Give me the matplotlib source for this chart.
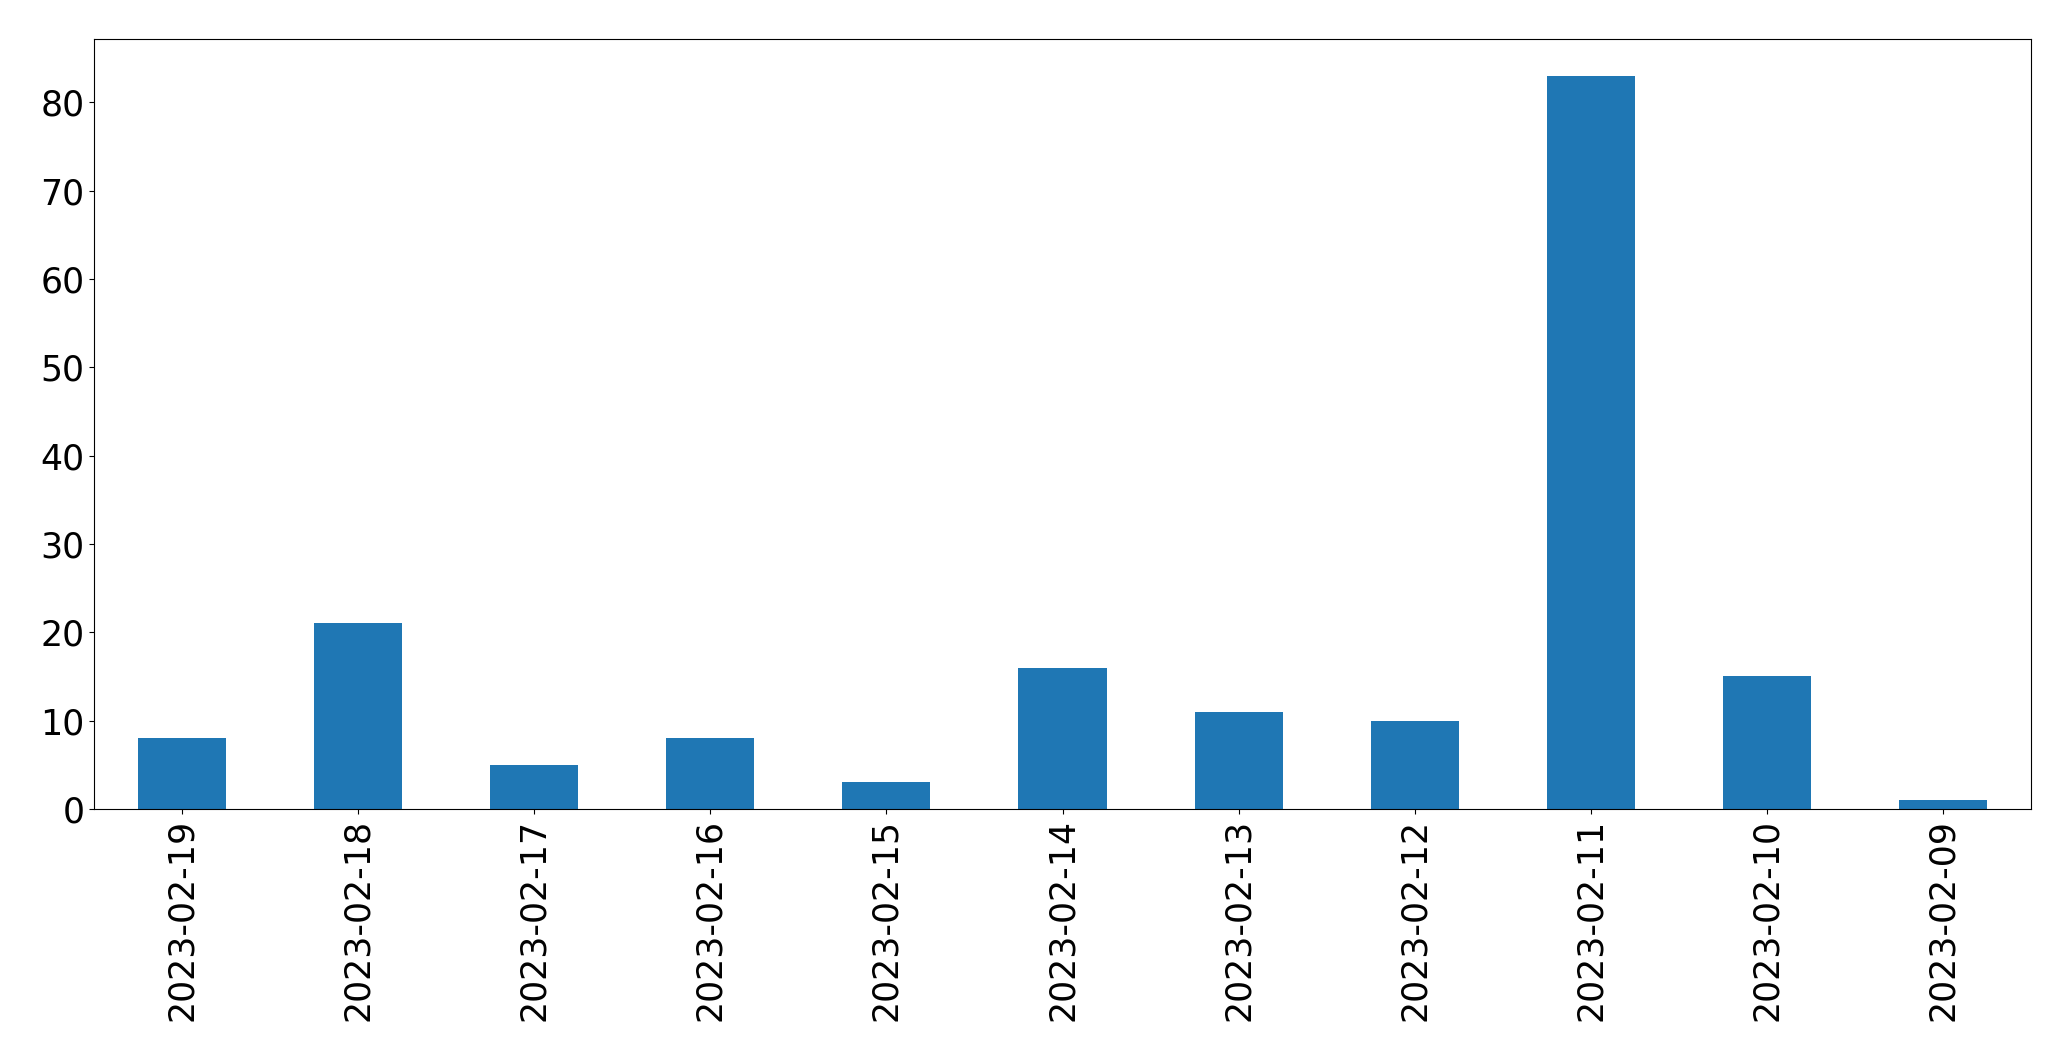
import matplotlib
matplotlib.use("Agg")
import matplotlib.pyplot as plt
import pandas as pd

dates = ['2023-02-19', '2023-02-18', '2023-02-17', '2023-02-16', '2023-02-15', '2023-02-14',
         '2023-02-13', '2023-02-12', '2023-02-11', '2023-02-10', '2023-02-09']
counts = [8, 21, 5, 8, 3, 16, 11, 10, 83, 15, 1]

s = pd.Series(counts, index=dates)

fig = plt.figure(figsize=(20.71, 10.61), dpi=100)
ax = fig.add_axes([94 / 2071, 1 - 809 / 1061, (2031 - 94) / 2071, (809 - 39) / 1061])
s.plot(kind='bar', ax=ax, color='#1f77b4', width=0.5)
ax.tick_params(labelsize=25)
fig.savefig('out.png', dpi=100)
